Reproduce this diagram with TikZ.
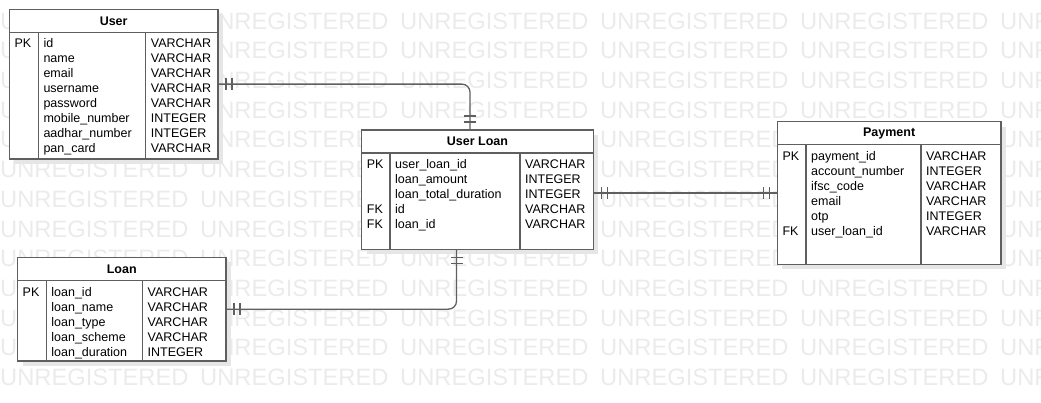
\documentclass[tikz,border=0pt]{standalone}
\usepackage{fontspec}
\setmainfont{Liberation Sans}
\usepackage{tikz}
\usetikzlibrary{positioning, shadows, decorations.markings}
\definecolor{erline}{HTML}{5F5F5F}
\definecolor{wmgray}{HTML}{EBEBEB}
\definecolor{shadowgray}{HTML}{E6E6E6}

\begin{document}
\begin{tikzpicture}[
                x=1pt, y=-1pt,
                entity/.style={draw=erline, line width=1.3pt, fill=white, outer sep=0pt, inner sep=0pt,
                    general shadow={shadow xshift=5pt, shadow yshift=-5pt, draw=none, fill=shadowgray}},
                headbox/.style={draw=erline, line width=1.3pt, fill=white, outer sep=0pt, inner sep=0pt,
                    minimum height=23pt, font=\fontsize{12.5}{15}\selectfont\bfseries},
                colbox/.style={draw=erline, line width=1.3pt, outer sep=0pt, inner sep=0pt},
                fieldtxt/.style={inner sep=0pt, align=left, anchor=north west, font=\fontsize{12.5}{15}\selectfont},
                wmark/.style={text=wmgray, inner sep=0pt, anchor=west, font=\fontsize{23.7}{28}\selectfont},
                rel/.style={draw=erline, line width=1.3pt},
                mandone/.style={postaction={decorate, decoration={markings,
                    mark=at position 8pt with {\draw[rel] (0,-6) -- (0,6);},
                    mark=at position 14pt with {\draw[rel] (0,-6) -- (0,6);},
                    mark=at position -14pt with {\draw[rel] (0,-6) -- (0,6);},
                    mark=at position -8pt with {\draw[rel] (0,-6) -- (0,6);}}}}
            ]

                \useasboundingbox (0,0) rectangle (1041,403);

                % watermark
                \foreach \r in {0,...,12}
                    \foreach \c in {0,...,5}
                        \node[wmark] (wm-\r-\c) at (200*\c, 21+29.7*\r) {UNREGISTERED};

                % User
                \node[entity, minimum width=208.7pt, minimum height=149.7pt] (user) at (113.65,84.15) {};
                \node[headbox, minimum width=208.7pt, below=0pt of user.north] (userhead) {User};
                \node[colbox, minimum width=29pt, minimum height=126.7pt, below right=0pt of userhead.south west] (userkey) {};
                \node[colbox, minimum width=107.4pt, minimum height=126.7pt, right=0pt of userkey] (username) {};
                \node[colbox, minimum width=72.3pt, minimum height=126.7pt, right=0pt of username] (usertype) {};
                \node[fieldtxt] (userkeys) at ([shift={(5,5)}]userkey.north west) {\strut PK};
                \node[fieldtxt] (usernames) at ([shift={(5,5)}]username.north west)
                    {\strut id\\name\\email\\username\\password\\mobile\_number\\aadhar\_number\\pan\_card};
                \node[fieldtxt] (usertypes) at ([shift={(5,5)}]usertype.north west)
                    {\strut VARCHAR\\VARCHAR\\VARCHAR\\VARCHAR\\VARCHAR\\INTEGER\\INTEGER\\VARCHAR};

                % User Loan
                \node[entity, minimum width=231.6pt, minimum height=119.3pt] (userloan) at (477.5,189.65) {};
                \node[headbox, minimum width=231.6pt, below=0pt of userloan.north] (userloanhead) {User Loan};
                \node[colbox, minimum width=28.3pt, minimum height=96.3pt, below right=0pt of userloanhead.south west] (userloankey) {};
                \node[colbox, minimum width=130pt, minimum height=96.3pt, right=0pt of userloankey] (userloanname) {};
                \node[colbox, minimum width=73.3pt, minimum height=96.3pt, right=0pt of userloanname] (userloantype) {};
                \node[fieldtxt] (userloankeys) at ([shift={(5,5)}]userloankey.north west) {\strut PK\\\strut\\\strut\\FK\\FK};
                \node[fieldtxt] (userloannames) at ([shift={(5,5)}]userloanname.north west)
                    {\strut user\_loan\_id\\loan\_amount\\loan\_total\_duration\\id\\loan\_id};
                \node[fieldtxt] (userloantypes) at ([shift={(5,5)}]userloantype.north west)
                    {\strut VARCHAR\\INTEGER\\INTEGER\\VARCHAR\\VARCHAR};

                % Payment
                \node[entity, minimum width=223.7pt, minimum height=142.6pt] (payment) at (889.15,193) {};
                \node[headbox, minimum width=223.7pt, below=0pt of payment.north] (paymenthead) {Payment};
                \node[colbox, minimum width=28.7pt, minimum height=119.6pt, below right=0pt of paymenthead.south west] (paymentkey) {};
                \node[colbox, minimum width=115pt, minimum height=119.6pt, right=0pt of paymentkey] (paymentname) {};
                \node[colbox, minimum width=80pt, minimum height=119.6pt, right=0pt of paymentname] (paymenttype) {};
                \node[fieldtxt] (paymentkeys) at ([shift={(5,5)}]paymentkey.north west)
                    {\strut PK\\\strut\\\strut\\\strut\\\strut\\FK};
                \node[fieldtxt] (paymentnames) at ([shift={(5,5)}]paymentname.north west)
                    {\strut payment\_id\\account\_number\\ifsc\_code\\email\\otp\\user\_loan\_id};
                \node[fieldtxt] (paymenttypes) at ([shift={(5,5)}]paymenttype.north west)
                    {\strut VARCHAR\\INTEGER\\VARCHAR\\VARCHAR\\INTEGER\\VARCHAR};

                % Loan
                \node[entity, minimum width=208.5pt, minimum height=103.7pt] (loan) at (121.75,309.15) {};
                \node[headbox, minimum width=208.5pt, below=0pt of loan.north] (loanhead) {Loan};
                \node[colbox, minimum width=28.7pt, minimum height=80.7pt, below right=0pt of loanhead.south west] (loankey) {};
                \node[colbox, minimum width=96.3pt, minimum height=80.7pt, right=0pt of loankey] (loanname) {};
                \node[colbox, minimum width=83.5pt, minimum height=80.7pt, right=0pt of loanname] (loantype) {};
                \node[fieldtxt] (loankeys) at ([shift={(5,5)}]loankey.north west) {\strut PK};
                \node[fieldtxt] (loannames) at ([shift={(5,5)}]loanname.north west)
                    {\strut loan\_id\\loan\_name\\loan\_type\\loan\_scheme\\loan\_duration};
                \node[fieldtxt] (loantypes) at ([shift={(5,5)}]loantype.north west)
                    {\strut VARCHAR\\VARCHAR\\VARCHAR\\VARCHAR\\INTEGER};

                % relations
                \draw[rel, mandone, rounded corners=8pt] (user.east) -| ([xshift=-7.5pt]userloan.north);
                \draw[rel, mandone, rounded corners=8pt] ([xshift=-21pt]userloan.south) |- (loan.east);
                \draw[rel, mandone] (userloan.east |- payment.west) -- (payment.west);

            \end{tikzpicture}
\end{document}
